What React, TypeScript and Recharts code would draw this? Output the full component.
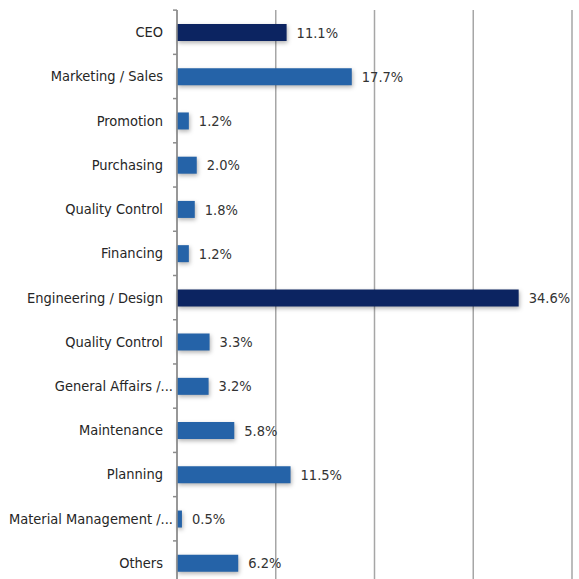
import { Bar, BarChart, CartesianGrid, Cell, LabelList, XAxis, YAxis } from 'recharts';

const categories = [
  'CEO',
  'Marketing / Sales',
  'Promotion',
  'Purchasing',
  'Quality Control',
  'Financing',
  'Engineering / Design',
  'Quality Control',
  'General Affairs /...',
  'Maintenance',
  'Planning',
  'Material Management /...',
  'Others',
];

const shares = [11.1, 17.7, 1.2, 2.0, 1.8, 1.2, 34.6, 3.3, 3.2, 5.8, 11.5, 0.5, 6.2];

const highlighted = ['CEO', 'Engineering / Design'];

const xTicks = [0, 10, 20, 30];

const FONT = '"DejaVu Sans", sans-serif';
const NAVY = '#0c2461';
const BLUE = '#2563a8';

const data = categories.map((name, i) => ({ name, share: shares[i] }));

function CategoryTick(props: any) {
  const { x, y, payload } = props;
  const axisX = x + 8;
  // truncated labels sit a little closer to the axis, like the original
  const shift = String(payload.value).endsWith('...') ? 10 : 0;
  return (
    <g>
      <line x1={axisX - 4} x2={axisX} y1={y - 22} y2={y - 22} stroke="#8c8c8c" strokeWidth={1.5} />
      <text
        x={x - 6 + shift}
        y={y}
        dy={5}
        textAnchor="end"
        fill="#262626"
        fontSize={14.5}
        fontFamily={FONT}
        style={{ fontStretch: 'condensed' }}
      >
        {payload.value}
      </text>
    </g>
  );
}

export default function App() {
  return (
    <div
      style={{
        position: 'absolute',
        left: 0,
        top: 0,
        width: 579,
        height: 579,
        overflow: 'hidden',
        background: '#fff',
      }}
    >
      <BarChart
        width={579}
        height={596}
        data={data}
        layout="vertical"
        margin={{ top: 10, right: 7, left: 0, bottom: 11 }}
        barSize={17}
      >
        <CartesianGrid horizontal={false} stroke="#a6a6a6" strokeWidth={1.5} />
        <XAxis
          type="number"
          orientation="top"
          domain={[0, 40]}
          ticks={xTicks}
          height={0}
          tick={{ fill: 'none', fontSize: 1 }}
          tickLine={false}
          axisLine={{ stroke: '#d9d9d9' }}
        />
        <YAxis
          type="category"
          dataKey="name"
          width={177}
          axisLine={{ stroke: '#8c8c8c', strokeWidth: 1.5 }}
          tickLine={false}
          tick={<CategoryTick />}
          interval={0}
        />
        <YAxis
          yAxisId="edge"
          type="category"
          dataKey="name"
          orientation="right"
          width={0}
          tick={false}
          tickLine={false}
          axisLine={{ stroke: '#e3e3e3' }}
        />
        <Bar dataKey="share" isAnimationActive={false}>
          {data.map((entry, index) => (
            <Cell
              key={index}
              fill={highlighted.includes(entry.name) ? NAVY : BLUE}
              style={{ filter: 'drop-shadow(1px 2px 2px rgba(0,0,0,0.3))' }}
            />
          ))}
          <LabelList
            dataKey="share"
            position="right"
            offset={10}
            fill="#333333"
            fontSize={14.5}
            fontFamily={FONT}
            style={{ fontStretch: 'condensed' }}
            formatter={(v: any) => `${Number(v).toFixed(1)}%`}
          />
        </Bar>
      </BarChart>
    </div>
  );
}
